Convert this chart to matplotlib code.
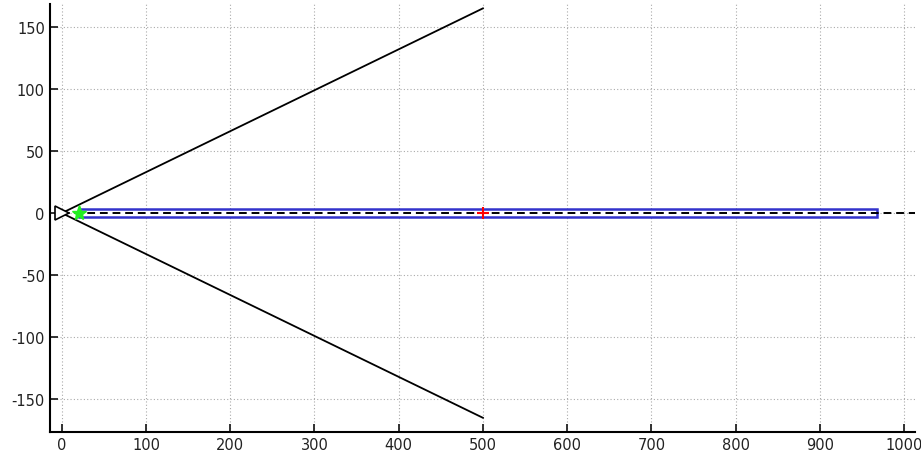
import matplotlib.pyplot as plt
from matplotlib.patches import Rectangle

plt.rcParams['axes.unicode_minus'] = False

# cone edges from origin
cone_x = [0, 500]
cone_top = [0, 165]
cone_bot = [0, -165]

# axis line
axis_x = [0, 1015]
axis_y = [0, 0]

# body band
band_x0, band_x1 = 20, 968
band_half = 3.0

start_pt = (0, 0)
green_pt = (21, 0)
red_pt = (500, 0)

fig = plt.figure(figsize=(9.21, 4.56), dpi=100)
ax = fig.add_axes([0.054, 0.05, 0.9395, 0.939])

ax.plot(cone_x, cone_top, color='black', lw=1.3)
ax.plot(cone_x, cone_bot, color='black', lw=1.3)

ax.add_patch(Rectangle((band_x0, -band_half), band_x1 - band_x0, 2 * band_half,
                       facecolor='white', edgecolor='#3333cc', lw=1.8, zorder=3))
ax.plot(axis_x, axis_y, color='black', lw=1.4, ls=(0, (4, 2.5)), zorder=4)

ax.plot(*start_pt, marker='>', ms=10, mfc='white', mec='black', mew=1.2, zorder=5)
ax.plot(*green_pt, marker='*', ms=11, color='#22ee22', zorder=5)
ax.plot(*red_pt, marker='+', ms=9, mew=1.5, color='red', zorder=5)

ax.set_xlim(-14.3, 1013)
ax.set_ylim(-176.6, 168.5)
ax.set_xticks(range(0, 1001, 100))
ax.set_yticks(range(-150, 151, 50))

ax.grid(True, ls=(0, (1, 2)), color='#aaaaaa', lw=0.8)
for s in ['top', 'right']:
    ax.spines[s].set_visible(False)
for s in ['left', 'bottom']:
    ax.spines[s].set_linewidth(1.5)
ax.tick_params(direction='in', length=6, width=1.3, labelsize=10.5, colors='#222222')

fig.savefig('out.png', dpi=100)
